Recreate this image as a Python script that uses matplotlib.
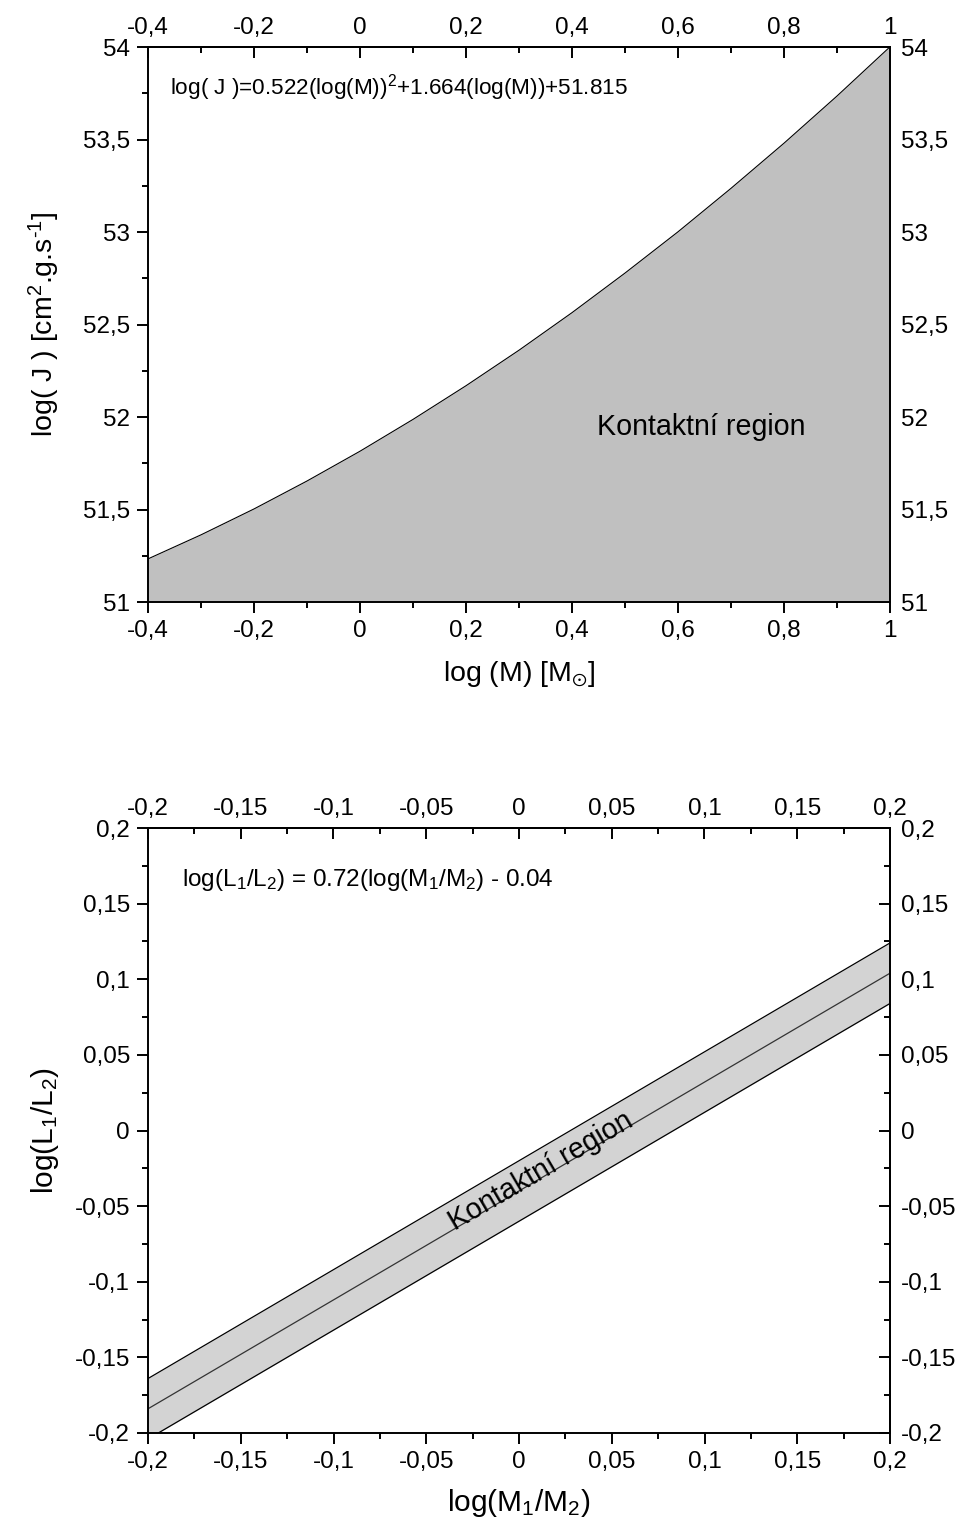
import matplotlib
matplotlib.use("Agg")
import matplotlib.pyplot as plt
from matplotlib.ticker import FixedLocator, FuncFormatter

plt.rcParams['font.family'] = ['Liberation Sans', 'DejaVu Sans']
plt.rcParams['mathtext.fontset'] = 'custom'
plt.rcParams['mathtext.rm'] = 'Liberation Sans'
plt.rcParams['mathtext.it'] = 'Liberation Sans'
plt.rcParams['mathtext.default'] = 'regular'

# ---------------- data ----------------
# top panel: log(J) boundary of contact region
logM = [-0.4, -0.3, -0.2, -0.1, 0.0, 0.1, 0.2, 0.3, 0.4, 0.5, 0.6, 0.7, 0.8, 0.9, 1.0]
logJ = [51.233, 51.363, 51.503, 51.654, 51.815, 51.987, 52.169, 52.361,
        52.564, 52.778, 53.001, 53.236, 53.480, 53.735, 54.001]
top_xticks = [-0.4, -0.2, 0.0, 0.2, 0.4, 0.6, 0.8, 1.0]
top_yticks = [51, 51.5, 52, 52.5, 53, 53.5, 54]

# bottom panel: mass ratio vs luminosity ratio band
logq = [-0.2, 0.2]
band_center = [-0.184, 0.104]
band_upper = [-0.164, 0.124]
band_lower = [-0.204, 0.084]
bot_xticks = [-0.2, -0.15, -0.1, -0.05, 0.0, 0.05, 0.1, 0.15, 0.2]
bot_yticks = [-0.2, -0.15, -0.1, -0.05, 0.0, 0.05, 0.1, 0.15, 0.2]


def fmt(v, pos=None):
    s = '%g' % round(v, 4)
    if s == '-0':
        s = '0'
    return s.replace('.', ',')


W, H = 962, 1526
fig = plt.figure(figsize=(W / 100, H / 100), dpi=100)

TICK_FS = 17.5
LABEL_FS = 20.5
LW = 1.4
MAJ, MIN = 8, 4.2


def style_axes(ax, xticks, yticks, xminor, yminor):
    ax.set_xticks(xticks)
    ax.set_yticks(yticks)
    ax.xaxis.set_minor_locator(FixedLocator(xminor))
    ax.yaxis.set_minor_locator(FixedLocator(yminor))
    ax.xaxis.set_major_formatter(FuncFormatter(fmt))
    ax.yaxis.set_major_formatter(FuncFormatter(fmt))
    for sp in ax.spines.values():
        sp.set_linewidth(LW)
    ax.tick_params(which='both', direction='out', width=LW, labelsize=TICK_FS,
                   top=False, right=False)
    ax.tick_params(which='major', length=MAJ, pad=5)
    ax.tick_params(which='minor', length=MIN)
    # top and right axes, ticks inward
    sx = ax.secondary_xaxis('top')
    sx.set_xticks(xticks)
    sx.xaxis.set_minor_locator(FixedLocator(xminor))
    sx.xaxis.set_major_formatter(FuncFormatter(fmt))
    sx.tick_params(which='both', direction='in', width=LW, labelsize=TICK_FS)
    sx.tick_params(which='major', length=MAJ, pad=6)
    sx.tick_params(which='minor', length=MIN)
    sx.spines['top'].set_linewidth(LW)
    sy = ax.secondary_yaxis('right')
    sy.set_yticks(yticks)
    sy.yaxis.set_minor_locator(FixedLocator(yminor))
    sy.yaxis.set_major_formatter(FuncFormatter(fmt))
    sy.tick_params(which='both', direction='in', width=LW, labelsize=TICK_FS)
    sy.tick_params(which='major', length=MAJ, pad=8)
    sy.tick_params(which='minor', length=MIN)
    sy.spines['right'].set_linewidth(LW)


# ---------------- top panel ----------------
L = 148 / W
Wd = 742 / W
ax1 = fig.add_axes([L, 1 - 602 / H, Wd, 555 / H])
ax1.fill_between(logM, logJ, 51, color='#c0c0c0', linewidth=0)
ax1.plot(logM, logJ, color='black', linewidth=0.8)
ax1.set_xlim(-0.4, 1.0)
ax1.set_ylim(51, 54)
style_axes(ax1, top_xticks, top_yticks,
           [-0.3, -0.1, 0.1, 0.3, 0.5, 0.7, 0.9],
           [51.25, 51.75, 52.25, 52.75, 53.25, 53.75])
ax1.set_xlabel(r'log (M) [M$_{\odot}$]', fontsize=LABEL_FS, labelpad=12)
ax1.set_ylabel('log( J ) [cm$^{2}$.g.s$^{\u20101}$]', fontsize=LABEL_FS, labelpad=15)
ax1.text(-0.358, 53.78, r'log( J )=0.522(log(M))$^{2}$+1.664(log(M))+51.815',
         fontsize=16.2, ha='left', va='center')
ax1.text(0.643, 51.946, 'Kontaktní region', fontsize=20.6, ha='center', va='center')

# ---------------- bottom panel ----------------
ax2 = fig.add_axes([L, 1 - 1433 / H, Wd, 605 / H])
ax2.fill_between(logq, band_lower, band_upper, color='#d3d3d3', linewidth=0)
ax2.plot(logq, band_upper, color='black', linewidth=0.9)
ax2.plot(logq, band_lower, color='black', linewidth=0.9)
ax2.plot(logq, band_center, color='#333333', linewidth=0.9)
ax2.set_xlim(-0.2, 0.2)
ax2.set_ylim(-0.2, 0.2)
style_axes(ax2, bot_xticks, bot_yticks,
           [-0.175, -0.125, -0.075, -0.025, 0.025, 0.075, 0.125, 0.175],
           [-0.175, -0.125, -0.075, -0.025, 0.025, 0.075, 0.125, 0.175])
ax2.set_xlabel(r'log(M$_{1}$/M$_{2}$)', fontsize=21.5, labelpad=10)
ax2.set_ylabel(r'log(L$_{1}$/L$_{2}$)', fontsize=21.5, labelpad=10)
ax2.text(-0.1817, 0.1656, r'log(L$_{1}$/L$_{2}$) = 0.72(log(M$_{1}$/M$_{2}$) - 0.04',
         fontsize=17.5, ha='left', va='center')
ax2.text(0.012, -0.027, 'Kontaktní region', fontsize=20.6, ha='center', va='center',
         rotation=30.4, rotation_mode='anchor', transform_rotates_text=False)

fig.savefig('out.png', dpi=100)
